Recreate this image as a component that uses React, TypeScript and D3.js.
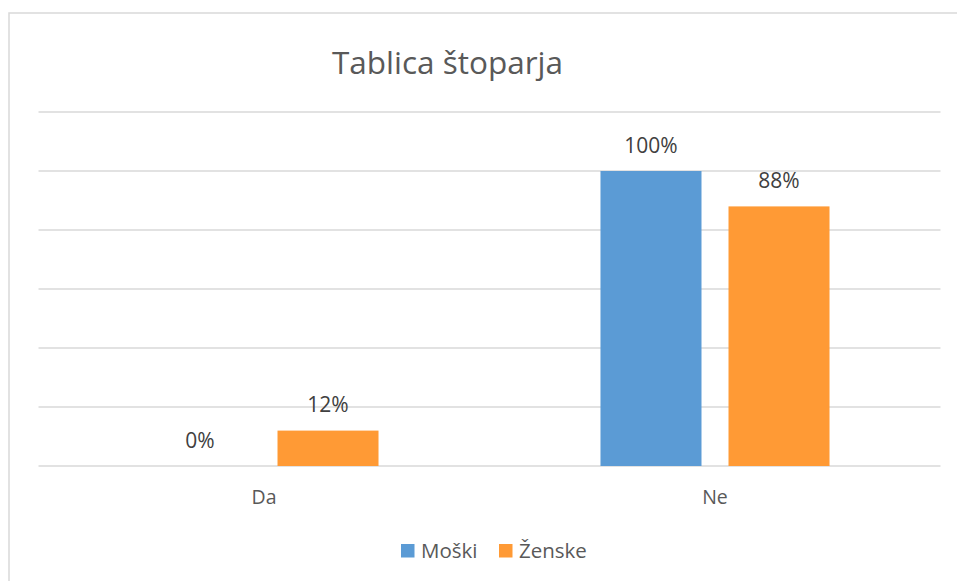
import React from "react";
import { scaleBand, scaleLinear, range } from "d3";

// chart data
const categories = ["Da", "Ne"];
const seriesNames = ["Moški", "Ženske"];
const moski = [0, 1.0];
const zenske = [0.12, 0.88];
const yTicks = [0, 0.2, 0.4, 0.6, 0.8, 1.0, 1.2];
const colors = ["#5B9BD5", "#FF9A35"];

const W = 957;
const H = 581;
const FONT = "'Open Sans', sans-serif";

function App() {
  const series = [moski, zenske];

  const x = scaleBand<string>().domain(categories).range([38.5, 940.5]).padding(0);
  const xInner = scaleBand<number>()
    .domain(range(seriesNames.length))
    .range([0, x.bandwidth()])
    .paddingInner(0.211)
    .paddingOuter(0.867);
  const y = scaleLinear().domain([0, 1.2]).range([466, 112]);

  const fmt = (v: number) => Math.round(v * 100) + "%";

  return (
    <svg
      width={W}
      height={H}
      style={{ position: "absolute", left: 0, top: 0, background: "#fff" }}
      fontFamily={FONT}
    >
      <rect x={9} y={13} width={980} height={600} fill="#fff" stroke="#d9d9d9" strokeWidth={1.5} />

      <text x={447.5} y={74} textAnchor="middle" fontSize={31.5} fill="#595959">
        Tablica štoparja
      </text>

      {/* gridlines */}
      {yTicks.map((t) => (
        <line
          key={t}
          x1={x.range()[0]}
          x2={x.range()[1]}
          y1={y(t)}
          y2={y(t)}
          stroke="#d9d9d9"
          strokeWidth={1.5}
        />
      ))}

      {/* bars and labels */}
      {categories.map((c, ci) =>
        series.map((s, si) => {
          const bx = (x(c) ?? 0) + (xInner(si) ?? 0);
          const v = s[ci];
          return (
            <g key={c + si}>
              <rect
                x={bx}
                y={y(v)}
                width={xInner.bandwidth()}
                height={y(0) - y(v)}
                fill={colors[si]}
              />
              <text
                x={bx + xInner.bandwidth() / 2}
                y={y(v) - 18.5}
                textAnchor="middle"
                fontSize={21}
                fill="#404040"
              >
                {fmt(v)}
              </text>
            </g>
          );
        })
      )}

      {/* category labels */}
      {categories.map((c) => (
        <text
          key={c}
          x={(x(c) ?? 0) + x.bandwidth() / 2}
          y={504}
          textAnchor="middle"
          fontSize={19.5}
          fill="#595959"
        >
          {c}
        </text>
      ))}

      {/* legend */}
      {seriesNames.map((n, i) => {
        const lx = [401, 499][i];
        return (
          <g key={n}>
            <rect x={lx} y={544} width={13.5} height={13.5} fill={colors[i]} />
            <text x={lx + 20} y={557.5} fontSize={20.5} fill="#595959">
              {n}
            </text>
          </g>
        );
      })}
    </svg>
  );
}

export default App;
